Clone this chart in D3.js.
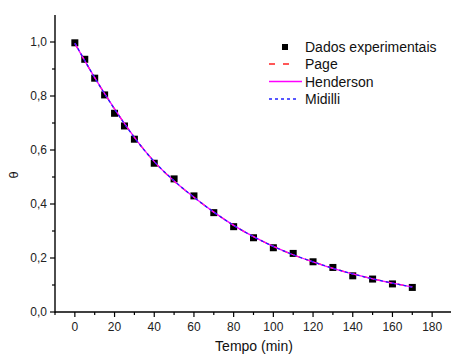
<!DOCTYPE html>
<html><head><meta charset="utf-8">
<script src="https://cdn.jsdelivr.net/npm/d3@7"></script>
<style>body{margin:0;background:#fff}svg{display:block}text{font-family:Arial,"Liberation Sans",sans-serif}</style>
</head><body><svg id="c" width="451" height="354"></svg>
<script>
const times = [0,5,10,15,20,25,30,40,50,60,70,80,90,100,110,120,130,140,150,160,170];
const theta = [0.997,0.936,0.866,0.804,0.736,0.689,0.640,0.551,0.493,0.430,0.368,0.316,0.275,0.238,0.217,0.186,0.165,0.134,0.122,0.104,0.091];
const fitTimes = [0,10,20,30,40,50,60,70,80,90,100,110,120,130,140,150,160,170];
const pageFit = [0.995,0.868,0.752,0.647,0.557,0.485,0.425,0.370,0.321,0.279,0.243,0.212,0.186,0.162,0.141,0.123,0.107,0.093];
const hendersonFit = [0.995,0.868,0.752,0.647,0.557,0.485,0.425,0.370,0.321,0.279,0.243,0.212,0.186,0.162,0.141,0.123,0.107,0.093];
const midilliFit = [0.996,0.868,0.751,0.646,0.557,0.486,0.425,0.370,0.321,0.279,0.243,0.212,0.186,0.162,0.141,0.123,0.107,0.092];
const xTicks = [0,20,40,60,80,100,120,140,160,180];
const yTicks = [0.0,0.2,0.4,0.6,0.8,1.0];
const legendLabels = ["Dados experimentais","Page","Henderson","Midilli"];

const svg = d3.select("#c");
const x = d3.scaleLinear().domain([-10,190]).range([55,452]);
const y = d3.scaleLinear().domain([0,1.1]).range([312,15]);
const fmt = d => d3.format(".1f")(d).replace(".",",");

// x axis
const xa = svg.append("g").attr("transform","translate(0,312)");
xa.append("line").attr("x1",55).attr("x2",451).attr("stroke","#000").attr("stroke-width",1.4);
const xMinor = d3.range(-10,191,10);
xa.selectAll(".xm").data(xMinor).enter().append("line")
  .attr("x1",d=>x(d)).attr("x2",d=>x(d)).attr("y1",0).attr("y2",d=>d%20===0?5:3)
  .attr("stroke","#000").attr("stroke-width",1.2);
xa.selectAll(".xl").data(xTicks).enter().append("text")
  .attr("x",d=>x(d)).attr("y",19).attr("text-anchor","middle").attr("font-size",12).attr("fill","#222")
  .text(d=>d);
// y axis
const ya = svg.append("g");
ya.append("line").attr("x1",55).attr("x2",55).attr("y1",15).attr("y2",312.7).attr("stroke","#000").attr("stroke-width",1.4);
const yMinor = d3.range(0,11).map(i=>i/10);
ya.selectAll(".ym").data(yMinor).enter().append("line")
  .attr("x1",d=>Math.round(d*10)%2===0?50:52).attr("x2",55).attr("y1",d=>y(d)).attr("y2",d=>y(d))
  .attr("stroke","#000").attr("stroke-width",1.2);
ya.selectAll(".yl").data(yTicks).enter().append("text")
  .attr("x",47).attr("y",d=>y(d)+4).attr("text-anchor","end").attr("font-size",12).attr("fill","#222")
  .text(fmt);

// titles
svg.append("text").attr("x",254).attr("y",350.5).attr("text-anchor","middle").attr("font-size",14).attr("fill","#111").text("Tempo (min)");
svg.append("text").attr("transform","translate(18,175) rotate(-90)").attr("text-anchor","middle").attr("font-size",13).attr("fill","#111").text("θ");

// points
svg.selectAll(".pt").data(times).enter().append("rect")
  .attr("x",(d)=>x(d)-3.5).attr("y",(d,i)=>y(theta[i])-3.5).attr("width",7).attr("height",7).attr("fill","#000");

// fits
const line = d3.line().x((d,i)=>x(fitTimes[i])).y(d=>y(d)).curve(d3.curveMonotoneX);
svg.append("path").attr("d",line(pageFit)).attr("fill","none").attr("stroke","#ff2020").attr("stroke-width",1.3).attr("stroke-dasharray","6,6");
svg.append("path").attr("d",line(hendersonFit)).attr("fill","none").attr("stroke","#ff00ff").attr("stroke-width",1.3);
svg.append("path").attr("d",line(midilliFit)).attr("fill","none").attr("stroke","#2020ff").attr("stroke-width",1.3).attr("stroke-dasharray","3,3");

// legend
const lg = svg.append("g");
const ly = [47,64,81.5,99];
lg.append("rect").attr("x",282).attr("y",ly[0]-3).attr("width",6).attr("height",6).attr("fill","#000");
lg.append("line").attr("x1",269).attr("x2",291).attr("y1",ly[1]).attr("y2",ly[1]).attr("stroke","#ff2020").attr("stroke-width",1.3).attr("stroke-dasharray","6,8");
lg.append("line").attr("x1",269).attr("x2",302).attr("y1",ly[2]).attr("y2",ly[2]).attr("stroke","#ff00ff").attr("stroke-width",1.3);
lg.append("line").attr("x1",269).attr("x2",299).attr("y1",ly[3]).attr("y2",ly[3]).attr("stroke","#2020ff").attr("stroke-width",1.3).attr("stroke-dasharray","3,3");
lg.selectAll(".lt").data(legendLabels).enter().append("text")
  .attr("x",305).attr("y",(d,i)=>ly[i]+5).attr("font-size",14).attr("fill","#111").text(d=>d);
</script></body></html>
